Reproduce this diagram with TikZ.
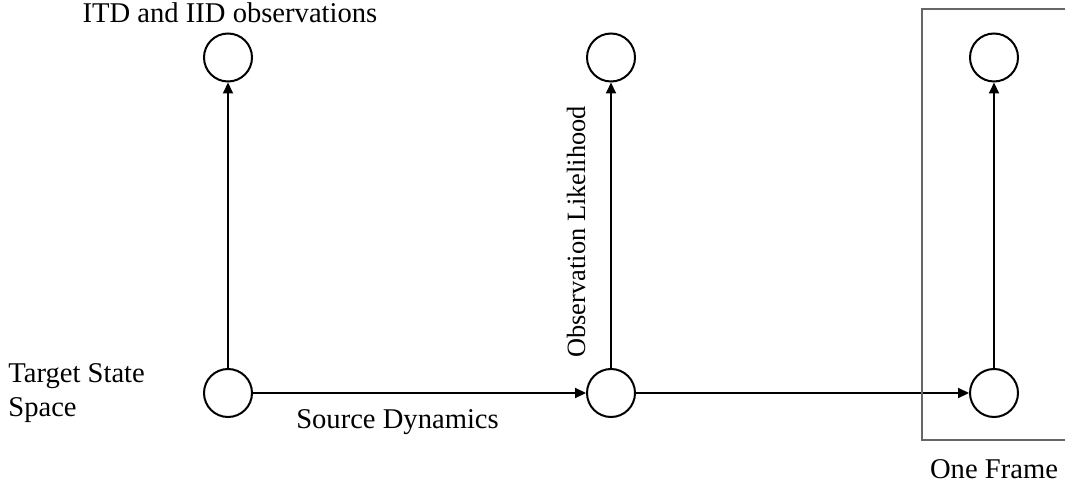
\documentclass[tikz,border=0pt]{standalone}
\usepackage{fontspec}
\setmainfont{Liberation Serif}
\usetikzlibrary{arrows.meta,positioning}
\definecolor{framegray}{HTML}{666666}
\tikzset{
  snode/.style={circle,draw=black,line width=1pt,minimum size=24pt,inner sep=0pt},
  darr/.style={-{Triangle[length=5.5pt,width=5pt]},line width=1pt,draw=black},
  lbl/.style={inner sep=0pt,font=\fontsize{14.3}{17}\selectfont},
  fbox/.style={draw=framegray,line width=0.7pt}
}
\begin{document}
\begin{tikzpicture}[x=0.5pt,y=-0.5pt]
  \useasboundingbox (0,0) rectangle (1065,486);
  \node[snode] (o1) at (228,57.5) {};
  \node[snode] (o2) at (611,57.5) {};
  \node[snode] (o3) at (994,57.5) {};
  \node[snode] (s1) at (228,393) {};
  \node[snode] (s2) at (611,393) {};
  \node[snode] (s3) at (994,393) {};
  \draw[darr] (s1) -- (o1);
  \draw[darr] (s2) -- node[lbl,font=\fontsize{13.2}{16}\selectfont,pos=0.477,xshift=-13pt,rotate=90,anchor=base] (lik) {Observation Likelihood} (o2);
  \draw[darr] (s3) -- (o3);
  \draw[darr] (s1) -- node[lbl,pos=0.434,yshift=-17.5pt,anchor=base] (dyn) {Source Dynamics} (s2);
  \draw[darr] (s2) -- (s3);
  \node[lbl,anchor=base] (obs) at (230,23) {ITD and IID observations};
  \node[lbl,anchor=north west,align=left] (state) at (8,363) {Target State\\Space};
  % frame round the last time step
  \draw[fbox] (1070,9) -- (922,9) -- (922,440) -- (1070,440);
  \node[lbl,anchor=base] (frame) at (994,478) {One Frame};
\end{tikzpicture}
\end{document}
